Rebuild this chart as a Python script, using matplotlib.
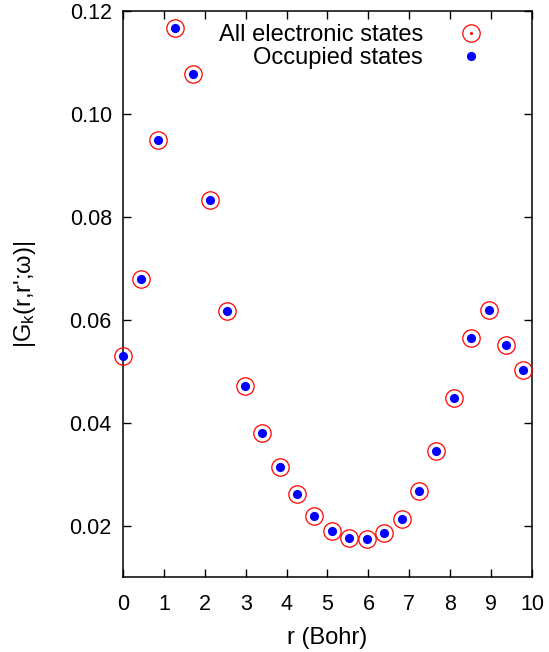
import matplotlib
matplotlib.use("Agg")
import matplotlib.pyplot as plt
from matplotlib.legend_handler import HandlerTuple

plt.rcParams['font.family'] = ['Liberation Sans', 'DejaVu Sans']
plt.rcParams['mathtext.fontset'] = 'custom'
plt.rcParams['mathtext.rm'] = 'Liberation Sans'
plt.rcParams['mathtext.it'] = 'Liberation Sans'

# r in Bohr and |G| values
r_bohr = [0.00, 0.43, 0.85, 1.28, 1.70, 2.13, 2.55, 2.98, 3.40, 3.83, 4.26, 4.68,
          5.11, 5.53, 5.96, 6.38, 6.81, 7.23, 7.66, 8.09, 8.51, 8.94, 9.36, 9.79]
g_all = [0.0530, 0.0679, 0.0949, 0.1167, 0.1078, 0.0832, 0.0617, 0.0472, 0.0379, 0.0314, 0.0262, 0.0219,
         0.0190, 0.0175, 0.0173, 0.0185, 0.0212, 0.0267, 0.0344, 0.0448, 0.0564, 0.0619, 0.0551, 0.0503]
g_occ = list(g_all)

fig = plt.figure(figsize=(5.49, 6.52), dpi=100)
ax = fig.add_axes([0.224, 0.115, 0.745, 0.868])

h1, = ax.plot(r_bohr, g_all, linestyle='none', marker='o', markersize=12.5,
              markerfacecolor='none', markeredgecolor='#ff0000', markeredgewidth=0.9,
              clip_on=False, zorder=3)
h2, = ax.plot(r_bohr, g_occ, linestyle='none', marker='o', markersize=6.6,
              markerfacecolor='#0000ff', markeredgecolor='#0000ff', markeredgewidth=0,
              clip_on=False, zorder=4)
# gnuplot draws a tiny dot in the centre of the open circle key
dot, = ax.plot([], [], linestyle='none', marker='o', markersize=1.2, color='#ff0000')

ax.set_xlim(0, 10)
ax.set_ylim(0.01, 0.12)
ax.set_xticks(range(0, 11))
ax.set_yticks([0.02, 0.04, 0.06, 0.08, 0.10, 0.12])
ax.set_yticklabels(['0.02', '0.04', '0.06', '0.08', '0.10', '0.12'])
ax.tick_params(direction='in', top=True, right=True, length=6, width=1,
               labelsize=15.5, pad=8)
ax.tick_params(axis='x', pad=12)
for s in ax.spines.values():
    s.set_linewidth(1.1)

ax.set_xlabel('r (Bohr)', fontsize=17, labelpad=9)
ax.set_ylabel("|G$_\\mathrm{k}$(r,r';ω)|", fontsize=17, labelpad=23)

ax.legend([(h1, dot), h2], ['All electronic states', 'Occupied states'],
          handler_map={tuple: HandlerTuple(ndivide=1, pad=0)},
          loc='upper right', bbox_to_anchor=(0.947, 1.015), markerfirst=False, frameon=False,
          fontsize=17, handlelength=1.5, handletextpad=1.3, labelspacing=0.05)

fig.savefig('out.png', dpi=100)
